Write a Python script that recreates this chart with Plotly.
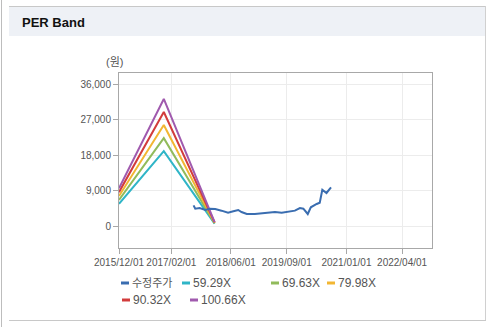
import plotly.graph_objects as go

# ---- data -------------------------------------------------------------
band_dates = ["2015-12-01", "2016-12-01", "2018-01-20"]
band_names = ["59.29X", "69.63X", "79.98X", "90.32X", "100.66X"]
band_59 = [5630, 18970, 600]
band_69 = [6610, 22280, 700]
band_79 = [7600, 25590, 800]
band_90 = [8580, 28900, 900]
band_100 = [9560, 32210, 1010]

price_name = "수정주가"
price_dates = [
    "2017-08-01", "2017-08-15", "2017-09-20", "2017-11-05", "2017-12-12",
    "2018-01-25", "2018-03-17", "2018-05-10", "2018-06-22", "2018-08-01",
    "2018-08-28", "2018-10-10", "2018-12-15", "2019-03-07", "2019-05-28",
    "2019-07-22", "2019-09-13", "2019-11-07", "2019-12-18", "2020-01-15",
    "2020-02-20", "2020-03-16", "2020-05-03", "2020-05-28", "2020-06-18",
    "2020-07-10", "2020-07-22", "2020-08-28",
]
price_values = [
    5240, 4390, 4560, 4060, 4390,
    4310, 3890, 3380, 3720, 4060,
    3550, 3040, 3040, 3210, 3550,
    3380, 3720, 3890, 4560, 4390,
    3040, 4740, 5580, 5900, 9200,
    8800, 8370, 9810,
]

x_tick_vals = ["2015-12-01", "2017-02-01", "2018-06-01", "2019-09-01", "2021-01-01", "2022-04-01"]
x_tick_text = ["2015/12/01", "2017/02/01", "2018/06/01", "2019/09/01", "2021/01/01", "2022/04/01"]
y_tick_vals = [0, 9000, 18000, 27000, 36000]

price_color = "#3a6db0"
band_colors = ["#2fb5c7", "#91bb5b", "#f2b632", "#d23c3c", "#a05aae"]

# ---- geometry ---------------------------------------------------------
W, H = 487, 327
ML, MR, MT, MB = 119, 55, 73, 79
PW, PH = W - ML - MR, H - MT - MB


def px(x):
    return (x - ML) / PW


def py(y):
    return (H - MB - y) / PH


FONT = "Liberation Sans, Arial, Noto Sans CJK KR, sans-serif"

fig = go.Figure()

bands = [band_59, band_69, band_79, band_90, band_100]
for name, vals, col in zip(band_names, bands, band_colors):
    fig.add_trace(go.Scatter(x=band_dates, y=vals, mode="lines", name=name,
                             line=dict(color=col, width=2), showlegend=False))

fig.add_trace(go.Scatter(x=price_dates, y=price_values, mode="lines", name=price_name,
                         line=dict(color=price_color, width=2), showlegend=False))

shapes = []
annotations = []

# panel frame and header strip
shapes.append(dict(type="rect", xref="paper", yref="paper",
                   x0=px(9), x1=px(486), y0=py(36), y1=py(7),
                   fillcolor="#eef1f6", line=dict(width=0), layer="below"))
shapes.append(dict(type="line", xref="paper", yref="paper",
                   x0=px(9), x1=px(486), y0=py(6.5), y1=py(6.5),
                   line=dict(color="#c8c8c8", width=1)))
shapes.append(dict(type="line", xref="paper", yref="paper",
                   x0=px(1.5), x1=px(1.5), y0=py(0), y1=py(327),
                   line=dict(color="#bdbdbd", width=1)))
shapes.append(dict(type="line", xref="paper", yref="paper",
                   x0=px(485.5), x1=px(485.5), y0=py(6), y1=py(320.5),
                   line=dict(color="#d0d0d0", width=1)))
shapes.append(dict(type="line", xref="paper", yref="paper",
                   x0=px(9), x1=px(486), y0=py(320.5), y1=py(320.5),
                   line=dict(color="#c8c8c8", width=1)))

annotations.append(dict(text="<b>PER Band</b>", xref="paper", yref="paper",
                        x=px(20), y=py(22), xanchor="left", yanchor="middle",
                        showarrow=False, font=dict(family=FONT, size=13, color="#111111")))
annotations.append(dict(text="(원)", xref="paper", yref="paper",
                        x=px(114), y=py(62), xanchor="center", yanchor="middle",
                        showarrow=False, font=dict(family=FONT, size=11, color="#555555")))

# legend drawn as line swatches + labels
legend_items = [
    (price_name, price_color, 121, 283, 11),
    (band_names[0], band_colors[0], 182, 283, 12),
    (band_names[1], band_colors[1], 271, 283, 12),
    (band_names[2], band_colors[2], 327, 283, 12),
    (band_names[3], band_colors[3], 122, 300, 12),
    (band_names[4], band_colors[4], 190, 300, 12),
]
for label, col, lx, ly, fs in legend_items:
    shapes.append(dict(type="line", xref="paper", yref="paper",
                       x0=px(lx), x1=px(lx + 8), y0=py(ly), y1=py(ly),
                       line=dict(color=col, width=3)))
    annotations.append(dict(text=label, xref="paper", yref="paper",
                            x=px(lx + 9), y=py(ly), xanchor="left", yanchor="middle",
                            showarrow=False,
                            font=dict(family=FONT, size=fs, color="#555555")))

fig.update_layout(
    width=W, height=H,
    margin=dict(l=ML, r=MR, t=MT, b=MB),
    paper_bgcolor="#ffffff", plot_bgcolor="#ffffff",
    font=dict(family=FONT, size=10, color="#555555"),
    shapes=shapes, annotations=annotations,
    showlegend=False,
)

fig.update_xaxes(
    type="date", range=["2015-12-01", "2022-12-01"],
    tickvals=x_tick_vals, ticktext=x_tick_text, tickangle=0,
    tickfont=dict(size=10, color="#555555"),
    showgrid=True, gridcolor="#ececec", gridwidth=1,
    showline=True, linecolor="#a8a8a8", linewidth=1, mirror=True,
    ticks="outside", ticklen=5, tickcolor="#a8a8a8",
    zeroline=False,
)
fig.update_yaxes(
    range=[-5577, 38789],
    tickvals=y_tick_vals, tickformat=",d",
    tickfont=dict(size=10, color="#555555"),
    showgrid=True, gridcolor="#ececec", gridwidth=1,
    showline=True, linecolor="#a8a8a8", linewidth=1, mirror=True,
    ticks="outside", ticklen=5, tickcolor="#a8a8a8",
    zeroline=False,
)

fig.write_html("out.html")
